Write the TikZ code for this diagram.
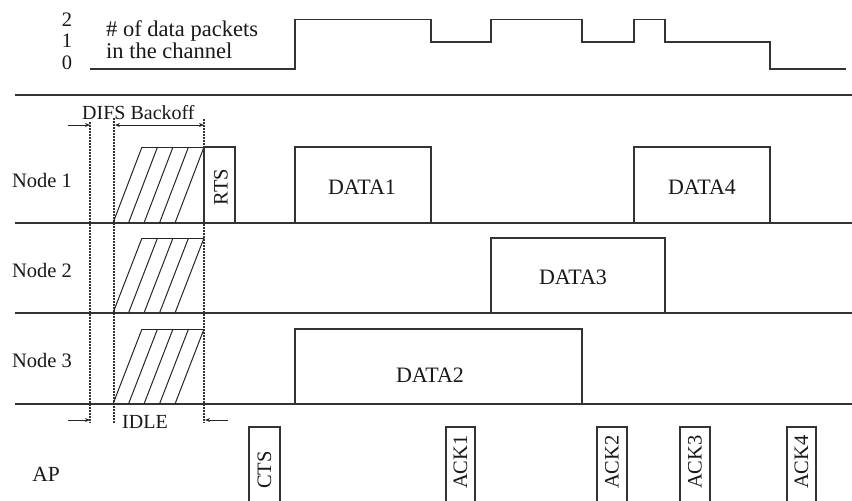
\documentclass[tikz,border=0pt]{standalone}
\usepackage{fontspec}
\setmainfont{Liberation Serif}
\usetikzlibrary{arrows.meta}
\newcommand\fsz[1]{\fontsize{#1}{#1}\selectfont}
\begin{document}
\begin{tikzpicture}[x=1pt,y=-1pt,
  ln/.style={line width=1.2pt, draw=black!80},
  hatchln/.style={line width=1pt, draw=black!85},
  dotv/.style={line width=1.2pt, draw=black!80, dash pattern=on 1.5pt off 1.5pt},
  arr/.style={line width=0.9pt, draw=black!85, -{Stealth[length=5pt,width=4pt]}},
  darr/.style={line width=0.9pt, draw=black!85, {Stealth[length=5pt,width=4pt]}-{Stealth[length=5pt,width=4pt]}},
  lbl/.style={inner sep=0pt, text=black!90, font=\fsz{20.5}},
  rlbl/.style={inner sep=0pt, rotate=90, anchor=west, text=black!90, font=\fsz{20.5}},
]
\useasboundingbox[fill=white] (0,0) rectangle (852,501);

% ---------- top: packets in channel ----------
\node[lbl, anchor=base] (l2) at (67,26) {2};
\node[lbl, anchor=base] (l1) at (67,47.5) {1};
\node[lbl, anchor=base] (l0) at (67,69) {0};
\node[lbl, anchor=base west, font=\fsz{22.5}] (t1) at (106,36) {\# of data packets};
\node[lbl, anchor=base west, font=\fsz{22.5}] (t2) at (106,58) {in the channel};
\draw[ln] (90,69) -- (295,69) -- (295,19.5) -- (431,19.5) -- (431,42) -- (491,42)
  -- (491,19.5) -- (582,19.5) -- (582,42) -- (634,42) -- (634,19.5) -- (665,19.5)
  -- (665,42) -- (770,42) -- (770,69) -- (846,69);

% ---------- row lines ----------
\foreach \yy in {95,223,313,404} \draw[ln] (15,\yy) -- (852,\yy);

% ---------- dotted guides ----------
\draw[dotv] (90,122) -- (90,423);
\draw[dotv] (114,118) -- (114,423);
\draw[dotv] (204,119) -- (204,423);

% ---------- hatched backoff ----------
\foreach \yt/\yb in {147/223, 238/313, 329/404} {
  \draw[hatchln] (142,\yt) -- (204,\yt);
  \foreach \i in {0,...,4}
    \draw[hatchln] ({113+15.5*\i},\yb) -- ({142+15.5*\i},\yt);
}

% ---------- arrows and timing labels ----------
\node[lbl, anchor=base west, font=\fsz{20}] (difs) at (82,119) {DIFS Backoff};
\draw[arr] (68,125) -- (90,125);
\draw[darr] (115,125) -- (204,125);
\node[lbl, anchor=base west, font=\fsz{20}] (idle) at (122,428) {IDLE};
\draw[arr] (68,420) -- (90,420);
\draw[arr] (228,420) -- (205,420);

% ---------- row labels ----------
\node[lbl] (n1) at (42,180) {Node 1};
\node[lbl] (n2) at (42,270) {Node 2};
\node[lbl] (n3) at (42,360) {Node 3};
\node[lbl, font=\fsz{21.5}] (ap) at (46,474) {AP};

% ---------- frames ----------
\draw[ln] (204,223) -- (204,147) -- (235,147) -- (235,223);
\node[lbl, rotate=90] (rts) at (221,187) {RTS};

\draw[ln] (295,223) -- (295,147) -- (431,147) -- (431,223);
\node[lbl, font=\fsz{22}] (d1) at (362,187) {DATA1};
\draw[ln] (634,223) -- (634,147) -- (770,147) -- (770,223);
\node[lbl, font=\fsz{22}] (d4) at (702,187) {DATA4};
\draw[ln] (491,313) -- (491,238) -- (665,238) -- (665,313);
\node[lbl, font=\fsz{22}] (d3) at (573,277) {DATA3};
\draw[ln] (295,404) -- (295,329) -- (582,329) -- (582,404);
\node[lbl, font=\fsz{22}] (d2) at (430,375) {DATA2};

% ---------- AP frames ----------
\foreach \xa/\xb/\nm in {249/280/CTS, 446/475/ACK1, 597/627/ACK2, 680/710/ACK3, 787/816/ACK4} {
  \draw[ln] (\xa,502) -- (\xa,427) -- (\xb,427) -- (\xb,502);
  \node[rlbl] (ap\nm) at ({(\xa+\xb)/2},489) {\nm};
}
\end{tikzpicture}
\end{document}
